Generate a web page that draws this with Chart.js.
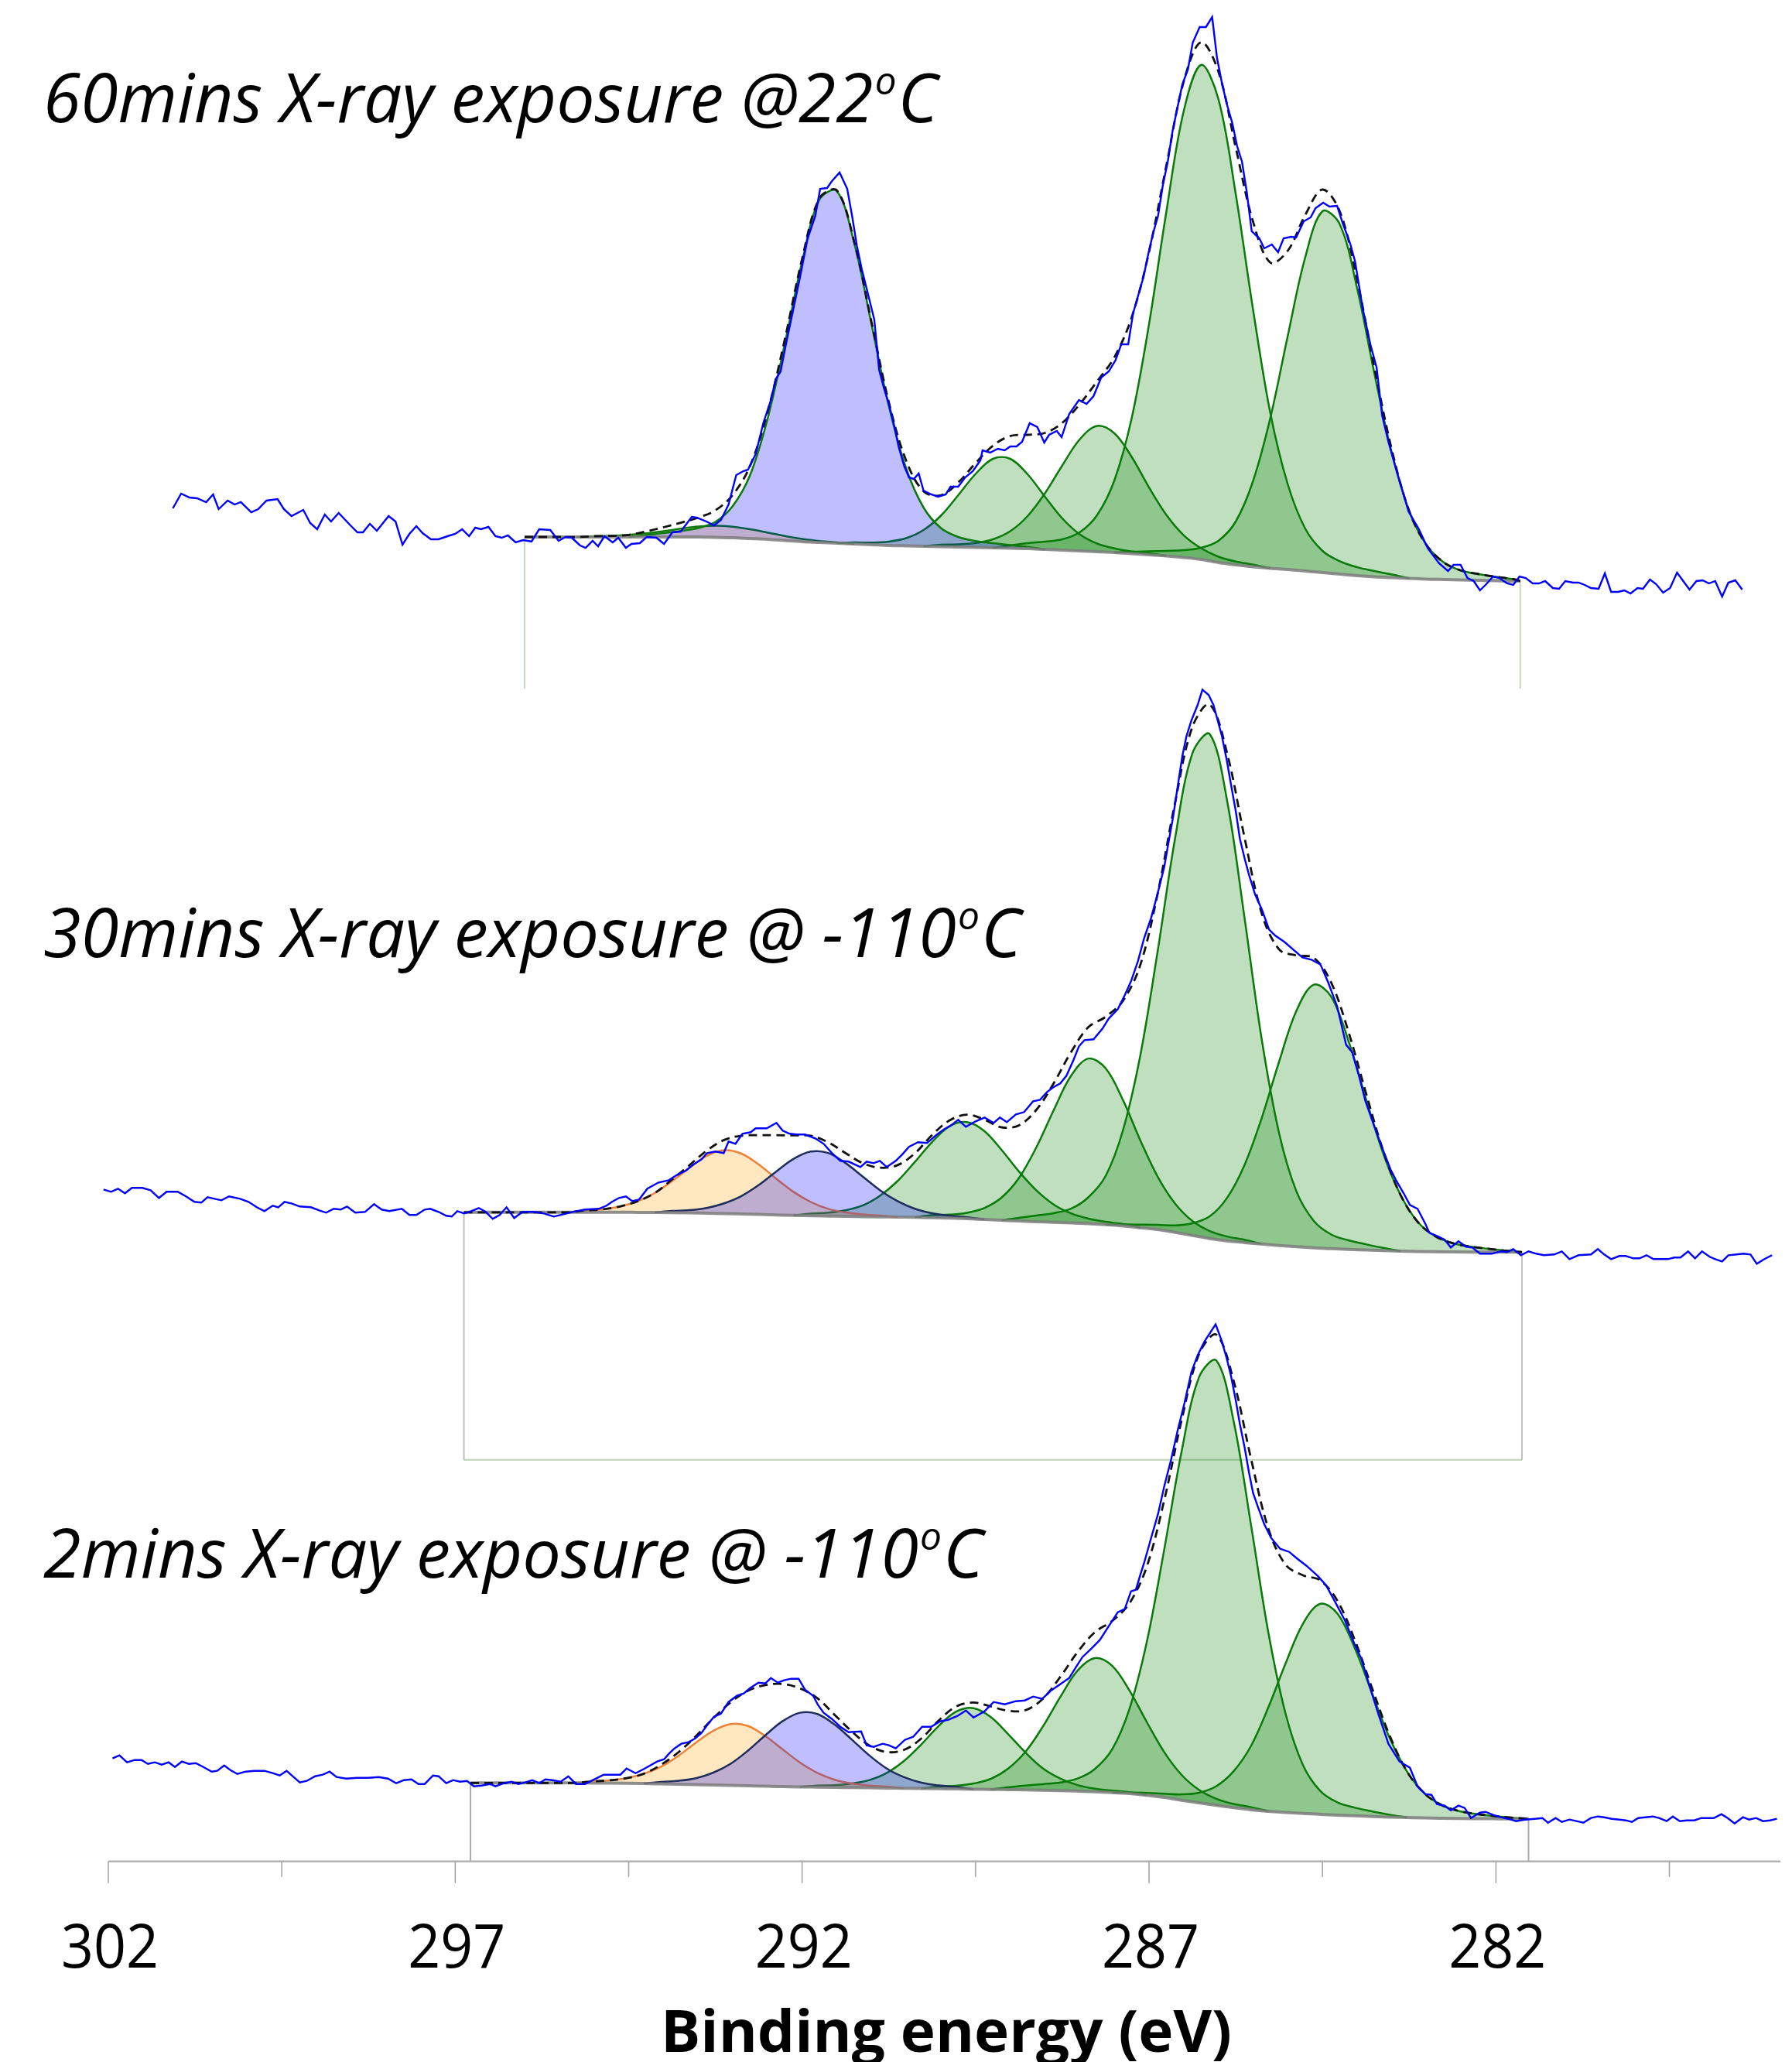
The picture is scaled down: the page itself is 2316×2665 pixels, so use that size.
<!DOCTYPE html>
<html>
<head>
<meta charset="utf-8">
<script src="https://cdn.jsdelivr.net/npm/chart.js@4.4.1/dist/chart.umd.min.js"></script>
<style>
  html, body { margin: 0; padding: 0; background: #fff; }
</style>
</head>
<body>
<canvas id="grafica" width="2316" height="2665"></canvas>
<script>
// C 1s spectra, binding energy (eV) vs intensity (a.u., each spectrum shifted by its offset)
const titles = [
  ['60mins X-ray exposure @22', 'o', 'C'],
  ['30mins X-ray exposure @ -110', 'o', 'C'],
  ['2mins X-ray exposure @ -110', 'o', 'C']
];
const offsets = [1654.7, 787.4, 55];
const tickEnergies = [302, 299.5, 297, 294.5, 292, 289.5, 287, 284.5, 282, 279.5];
const tickLabels = [302, 297, 292, 287, 282];

// fit windows [high BE, low BE] and lower end of the region marker lines
const fitRanges = [[296.0, 281.65], [296.875, 281.625], [296.78, 281.53]];
const frameBottoms = [1515.7, 518.9, 0];

// measured counts [BE, intensity]
const topRaw = [[301.07,94],[300.95,113],[300.83,108],[300.72,107],[300.59,102],[300.49,112],[300.41,93],[300.28,104],[300.18,99],[300.09,102],[299.94,89],[299.84,93],[299.72,104],[299.56,106],[299.47,93],[299.36,84],[299.19,92],[299.09,75],[298.99,67],[298.88,86],[298.79,77],[298.68,88],[298.51,72],[298.41,63],[298.33,63],[298.23,74],[298.13,65],[297.96,84],[297.86,77],[297.76,47],[297.66,61],[297.56,71],[297.47,62],[297.35,54],[297.24,54],[297.11,58],[297.00,61],[296.90,67],[296.80,58],[296.71,69],[296.63,67],[296.52,70],[296.42,58],[296.33,56],[296.24,59],[296.13,50],[296.02,53],[295.90,51],[295.79,67],[295.63,66],[295.51,52],[295.41,57],[295.32,56],[295.20,46],[295.12,43],[295.02,52],[294.94,45],[294.85,58],[294.73,50],[294.65,56],[294.54,43],[294.46,48],[294.34,49],[294.24,57],[294.10,56],[293.99,48],[293.87,63],[293.75,64],[293.59,83],[293.52,82],[293.38,77],[293.27,72],[293.17,79],[293.06,99],[292.95,137],[292.85,142],[292.78,144],[292.67,164],[292.56,204],[292.45,234],[292.38,261],[292.31,271],[292.24,303],[292.17,333],[292.10,363],[292.03,393],[291.92,443],[291.81,472],[291.74,507],[291.64,508],[291.57,517],[291.46,528],[291.35,507],[291.28,472],[291.21,433],[291.14,403],[291.07,378],[290.96,338],[290.89,273],[290.82,249],[290.75,229],[290.68,204],[290.61,174],[290.53,149],[290.46,134],[290.39,132],[290.32,139],[290.25,117],[290.14,112],[290.04,109],[289.93,112],[289.86,122],[289.75,122],[289.65,134],[289.54,142],[289.43,156],[289.40,169],[289.29,166],[289.18,171],[289.08,169],[289.00,174],[288.91,174],[288.83,180],[288.72,204],[288.61,199],[288.51,179],[288.44,189],[288.33,194],[288.26,186],[288.15,216],[288.01,234],[287.90,229],[287.80,239],[287.69,263],[287.58,271],[287.48,286],[287.40,306],[287.30,306],[287.23,346],[287.16,368],[287.08,393],[287.01,423],[286.94,450],[286.87,472],[286.80,512],[286.73,542],[286.66,582],[286.59,612],[286.52,642],[286.44,661],[286.37,696],[286.27,716],[286.18,716],[286.09,729],[286.02,676],[285.95,644],[285.88,617],[285.80,592],[285.73,562],[285.66,542],[285.59,502],[285.52,452],[285.41,443],[285.34,430],[285.23,435],[285.14,425],[285.06,443],[284.95,445],[284.88,444],[284.77,465],[284.67,470],[284.60,482],[284.49,489],[284.40,484],[284.29,485],[284.21,463],[284.10,436],[284.03,413],[283.92,352],[283.81,306],[283.72,276],[283.64,214],[283.55,180],[283.44,145],[283.35,118],[283.26,90],[283.11,67],[282.98,42],[282.82,23],[282.69,13],[282.61,21],[282.51,21],[282.41,4],[282.32,0],[282.23,-12],[282.14,-4],[282.04,6],[281.95,4],[281.84,-3],[281.75,-5],[281.66,6],[281.57,4],[281.47,-3],[281.38,-3],[281.29,0],[281.18,-9],[281.09,-10],[281.00,0],[280.89,-2],[280.81,-2],[280.72,-5],[280.63,-9],[280.52,-10],[280.43,10],[280.34,-14],[280.24,-14],[280.15,-12],[280.06,-16],[279.96,-9],[279.88,-10],[279.78,2],[279.69,-4],[279.59,-15],[279.49,-9],[279.39,11],[279.30,0],[279.21,-11],[279.11,0],[279.02,1],[278.93,-3],[278.84,0],[278.74,-20],[278.65,-2],[278.55,1],[278.45,-11]];

const midRaw = [[302.07,81],[301.96,78],[301.86,82],[301.76,76],[301.66,83],[301.51,83],[301.39,80],[301.27,70],[301.16,78],[301.00,78],[300.88,72],[300.76,65],[300.66,64],[300.57,71],[300.37,67],[300.26,72],[300.10,69],[299.98,65],[299.86,58],[299.75,53],[299.63,60],[299.55,58],[299.46,65],[299.36,63],[299.24,59],[299.08,58],[298.96,54],[298.86,51],[298.75,56],[298.65,55],[298.56,59],[298.44,51],[298.30,52],[298.17,62],[298.06,55],[297.95,53],[297.77,56],[297.66,48],[297.56,48],[297.44,55],[297.36,56],[297.24,52],[297.13,47],[297.05,46],[296.97,53],[296.87,50],[296.77,53],[296.66,57],[296.56,52],[296.46,43],[296.36,48],[296.26,58],[296.15,44],[296.03,52],[295.87,52],[295.72,50],[295.58,46],[295.44,49],[295.31,52],[295.13,55],[294.93,56],[294.82,60],[294.74,65],[294.64,70],[294.54,72],[294.45,66],[294.35,68],[294.23,82],[294.07,90],[293.92,93],[293.80,100],[293.68,105],[293.57,113],[293.45,120],[293.37,128],[293.25,130],[293.13,128],[293.06,143],[292.96,140],[292.86,153],[292.74,155],[292.67,160],[292.51,160],[292.37,167],[292.28,157],[292.18,153],[292.08,152],[291.96,152],[291.81,147],[291.69,140],[291.57,128],[291.45,118],[291.33,117],[291.16,110],[291.07,117],[290.97,115],[290.88,118],[290.78,110],[290.65,118],[290.56,126],[290.46,136],[290.33,142],[290.20,141],[290.07,151],[289.95,159],[289.85,164],[289.75,171],[289.64,162],[289.50,169],[289.37,174],[289.24,167],[289.15,174],[289.05,168],[288.92,178],[288.80,181],[288.67,195],[288.57,197],[288.47,207],[288.38,213],[288.28,218],[288.19,228],[288.09,248],[288.01,266],[287.93,274],[287.80,275],[287.67,289],[287.58,302],[287.45,314],[287.35,332],[287.26,350],[287.16,376],[287.07,406],[286.97,432],[286.88,462],[286.78,498],[286.72,529],[286.65,564],[286.59,600],[286.52,641],[286.46,667],[286.39,687],[286.30,707],[286.23,727],[286.14,720],[286.07,707],[286.01,687],[285.95,667],[285.88,636],[285.82,605],[285.75,570],[285.69,534],[285.62,508],[285.56,488],[285.47,462],[285.37,442],[285.27,417],[285.18,409],[285.05,401],[284.92,391],[284.79,381],[284.66,378],[284.60,375],[284.53,372],[284.42,349],[284.29,318],[284.16,268],[284.07,258],[283.98,230],[283.88,195],[283.77,167],[283.64,135],[283.52,107],[283.44,93],[283.33,76],[283.24,61],[283.13,56],[283.02,37],[282.96,25],[282.85,21],[282.74,16],[282.65,6],[282.54,14],[282.43,7],[282.34,6],[282.23,-2],[282.06,-2],[281.93,1],[281.84,0],[281.75,4],[281.64,-4],[281.53,1],[281.42,-2],[281.31,-4],[281.16,-3],[281.05,1],[280.94,-9],[280.81,-4],[280.63,-3],[280.53,4],[280.44,-3],[280.34,-9],[280.22,-5],[280.13,-5],[280.02,-8],[279.93,-8],[279.83,-4],[279.73,-9],[279.63,-9],[279.52,-9],[279.43,-7],[279.34,-7],[279.23,1],[279.13,-8],[279.03,1],[278.92,-6],[278.84,-9],[278.74,-12],[278.65,-4],[278.53,-3],[278.43,-2],[278.33,-3],[278.24,-15],[278.13,-9],[278.02,-4]];

const botRaw = [[301.94,78],[301.84,82],[301.73,73],[301.62,76],[301.52,76],[301.43,71],[301.33,73],[301.23,70],[301.13,73],[301.04,67],[300.94,74],[300.84,71],[300.74,72],[300.63,67],[300.51,61],[300.43,62],[300.33,69],[300.24,63],[300.14,58],[300.02,61],[299.90,62],[299.75,62],[299.63,59],[299.53,56],[299.43,62],[299.33,54],[299.24,47],[299.14,49],[299.02,55],[298.91,57],[298.81,61],[298.71,54],[298.57,52],[298.42,53],[298.26,53],[298.10,54],[297.97,52],[297.85,46],[297.74,50],[297.63,51],[297.53,45],[297.44,45],[297.32,56],[297.24,55],[297.13,46],[297.03,50],[296.93,48],[296.83,49],[296.73,42],[296.62,43],[296.50,45],[296.42,42],[296.30,46],[296.19,48],[296.09,45],[295.99,47],[295.89,50],[295.79,46],[295.70,51],[295.60,50],[295.48,48],[295.37,55],[295.26,45],[295.13,45],[294.97,52],[294.86,57],[294.74,57],[294.62,57],[294.53,65],[294.40,59],[294.29,64],[294.19,69],[294.09,74],[293.99,77],[293.92,84],[293.84,91],[293.74,97],[293.64,99],[293.54,104],[293.45,111],[293.37,121],[293.27,132],[293.17,136],[293.06,151],[292.94,159],[292.84,162],[292.75,169],[292.63,176],[292.53,175],[292.45,182],[292.35,176],[292.26,179],[292.16,181],[292.05,181],[291.96,167],[291.84,159],[291.77,147],[291.69,137],[291.57,129],[291.45,119],[291.33,112],[291.15,113],[291.07,95],[290.97,93],[290.84,97],[290.75,95],[290.65,91],[290.52,102],[290.40,106],[290.27,119],[290.14,119],[290.01,126],[289.89,128],[289.76,133],[289.64,140],[289.53,131],[289.37,139],[289.24,151],[289.08,148],[288.92,152],[288.79,153],[288.67,158],[288.54,155],[288.41,166],[288.28,174],[288.15,182],[288.06,195],[287.96,209],[287.83,220],[287.71,231],[287.58,249],[287.45,267],[287.35,271],[287.26,294],[287.19,296],[287.13,314],[287.07,331],[286.97,363],[286.87,394],[286.78,430],[286.68,465],[286.59,501],[286.49,537],[286.39,577],[286.30,599],[286.20,617],[286.12,628],[286.04,639],[285.95,617],[285.88,595],[285.82,573],[285.75,541],[285.69,510],[285.62,479],[285.56,448],[285.50,421],[285.43,403],[285.34,381],[285.24,363],[285.11,349],[284.98,345],[284.86,336],[284.73,327],[284.57,314],[284.45,302],[284.34,284],[284.18,257],[284.03,224],[283.94,207],[283.83,174],[283.70,137],[283.55,97],[283.39,74],[283.24,66],[283.13,42],[283.02,32],[282.93,31],[282.85,19],[282.74,17],[282.65,11],[282.54,17],[282.45,14],[282.36,1],[282.23,8],[282.15,9],[282.04,5],[281.93,2],[281.82,0],[281.71,-3],[281.58,-1],[281.44,0],[281.33,1],[281.25,-5],[281.14,1],[281.05,-4],[280.94,-1],[280.84,-3],[280.74,-5],[280.63,1],[280.53,3],[280.44,2],[280.33,0],[280.22,-1],[280.13,-2],[280.04,-4],[279.95,1],[279.85,2],[279.74,3],[279.65,1],[279.54,-3],[279.45,3],[279.35,-3],[279.25,-2],[279.14,-2],[279.04,1],[278.95,1],[278.86,1],[278.75,6],[278.66,1],[278.56,-6],[278.44,2],[278.35,-1],[278.25,1],[278.15,-3],[278.05,-2],[277.95,0]];

// Shirley backgrounds, one value per 0.25 eV step across the fit window
const topBg = [57,57,57,57,57,57,57,57,57,57,57,56.5,56,55,54,52.5,51,50,49,48,47,46,45.5,45,44.5,44,43.5,43,42.5,42,41,40,39,38,37,35.5,34,32.5,30.5,28,24,21,18.5,16.5,15,13,11,9,7,5.5,4.5,3.5,2.5,2,1.5,1,0.5,0,0];
const midBg = [51.5,51.5,51.5,51.5,51.5,51.5,51.5,51.5,51.5,51.5,51.4,51.3,51.1,50.8,50.4,49.9,49.3,48.7,48.1,47.5,47,46.6,46.2,45.9,45.6,45.3,45,44.5,44,43.2,42.2,41.2,40.2,39.4,38.6,37.8,36.8,35.5,33.8,31.6,29.2,25.6,21.6,17.6,14.6,12.4,10.5,8.6,7,5.6,4.5,3.5,2.7,2,1.4,0.9,0.5,0.3,0.1,0,0,0];
const botBg = [46.4,46.4,46.4,46.4,46.4,46.4,46.4,46.3,46.2,46,45.6,45.1,44.6,44.1,43.6,43.1,42.6,42.1,41.7,41.3,41,40.7,40.4,40.1,39.8,39.5,39.2,38.9,38.6,38.3,38,37.7,37.4,37,36.5,35.8,35,34,32.6,30.4,27.6,24,20.6,17.4,14.4,11.8,9.8,8.2,6.9,5.8,4.8,3.9,3,2.3,1.7,1.1,0.7,0.4,0.2,0.1,0,0];

// fitted components above background (0.25 eV steps from the start energy)
const topCompStart = [295.25, 294.5, 291.5, 290.25, 289.25, 287.5];
const topCompKind = ['orange', 'blue', 'green', 'green', 'green', 'green'];
const topC1 = [0,1,1.4,2.7,4.7,7.5,10.7,13.5,15,14.3,11.9,8.8,5.7,3.4,1.8,1.0,0];
const topC2 = [0,2.5,5,7.7,11.5,20,41,82,155,254,362,443,455,389,285,180,100,50,24,13,8.3,6,4,2,0];
const topC3 = [0,1.9,2.8,5.1,10,21,40,67,95,115,115.5,96,68,41,21.5,10.5,5.2,2.8,1.9,0];
const topC4 = [0,2.4,3.4,5.7,11,22,42,72.5,109.5,144,162.5,154,125,87,53,28.7,14.5,7.5,4.2,2.8,0];
const topC5 = [0,3.5,7,10,14,24,47,93,175,298,445,577,639,599,479,332,200,110,55,28,16.6,10.9,7.5,4,0];
const topC6 = [0,2.5,4.5,6.6,9.4,15,28,56,111,195,302,405,467,452,371,262,161,87,44,22,12,8,5,2.5,0];

const midCompStart = [295.375, 294.125, 292.125, 290.375, 289.125, 287.625];
const midCompKind = ['orange', 'blue', 'green', 'green', 'green', 'green'];
const midC1 = [0,2.3,3.9,7.5,14.3,25,40.7,58,74,81.8,78,64.5,47,30.4,17.8,9.3,5,2.8,1.7,0];
const midC2 = [0,2.1,3.5,6.7,13.2,23.2,38,56,73,83,81.6,69,51.7,34.3,20.6,11.1,5.8,3.1,1.9,0];
const midC3 = [0,2.7,4.4,7.9,14.5,27.5,46.5,71.6,98,118.7,124.8,114.4,90.8,64,40.5,23,12.3,6.5,3.7,2.5,0];
const midC4 = [0,3.2,4.5,7.7,14.8,29.3,55.6,95.9,144.7,190,213.4,202,162.6,112.8,68.3,37.2,18.6,9.6,5.6,3.6,0];
const midC5 = [0,4,8,11.8,18.3,34,63,124,223,360,509,623,652,569,420.5,264,145,71.4,34.7,18.3,11.8,7.5,3.5,0];
const midC6 = [0,2,4,6.1,8.9,15.7,28.6,55.6,100,163,237.7,305,340,325.7,269.4,196,125.5,72.6,37.9,20.1,11.3,7.2,4.5,2,0];

const botCompStart = [295.28, 294.28, 292.03, 290.28, 289.28, 287.53];
const botCompKind = ['orange', 'blue', 'green', 'green', 'green', 'green'];
const botC1 = [0,2,3.5,6.5,12.7,22.4,37,54.4,70.3,79.4,77.3,64.8,48,31.4,18.4,9.8,5.2,2.9,1.8,0];
const botC2 = [0,2.6,4.6,8.4,16.1,28.1,45.6,65.9,84.6,95.8,94.5,81,61.7,41.7,25.2,14.3,7.5,4.2,2.5,0];
const botC3 = [0,1.9,2.8,5.3,10,19.5,35.4,57.2,81.2,99.9,104.7,93.5,71.7,48.2,28.2,15.6,7.8,4,2.4,1.7,0];
const botC4 = [0,2.9,4.2,7.3,13.7,27.3,49.3,82.3,120.8,155.7,172.7,163.5,133,94.3,58.5,32.7,16.8,8.5,4.8,3.3,0];
const botC5 = [0,3,5.5,7.8,10.4,16.2,29.5,56,110,199,321,451,550,575,499.4,368,231,127,62.4,30,16.2,10.4,6.5,3,0];
const botC6 = [0,1.5,3,4.9,7.6,13.1,24.8,47.2,82.4,134.3,193,245.4,272.2,260,215.7,158,101.8,59.2,31.7,16.9,9.6,6,3.5,1.5,0];

const spectra = [
  { raw: topRaw, bg: topBg, start: topCompStart, kind: topCompKind, comps: [topC1, topC2, topC3, topC4, topC5, topC6], greenEdges: true },
  { raw: midRaw, bg: midBg, start: midCompStart, kind: midCompKind, comps: [midC1, midC2, midC3, midC4, midC5, midC6] },
  { raw: botRaw, bg: botBg, start: botCompStart, kind: botCompKind, comps: [botC1, botC2, botC3, botC4, botC5, botC6] }
];

const STEP = 0.25;
const fills = { orange: 'rgba(255,165,0,0.25)', blue: 'rgba(0,0,255,0.25)', green: 'rgba(0,128,0,0.25)' };
const edges = { orange: '#ee8236', blue: '#1e2d5c', green: '#0b7a0b' };
const frameColors = ['rgba(150,190,150,0.55)', 'rgba(165,165,165,0.7)', 'rgba(150,150,150,0.8)'];

function fitGrid(hi, lo) {
  const g = [];
  for (let k = 0; hi - k * STEP > lo + 1e-6; k++) g.push(+(hi - k * STEP).toFixed(3));
  g.push(lo);
  return g;
}

const datasets = [];
spectra.forEach((sp, s) => {
  const off = offsets[s];
  const [hi, lo] = fitRanges[s];
  const grid = fitGrid(hi, lo);

  // region marker lines
  const fb = frameBottoms[s];
  datasets.push({ data: [{x: hi, y: off + sp.bg[0]}, {x: hi, y: fb}], borderColor: frameColors[s], borderWidth: 2, order: 6 });
  datasets.push({ data: [{x: lo, y: off}, {x: lo, y: fb}], borderColor: frameColors[s], borderWidth: 2, order: 6 });
  if (s === 1) {
    datasets.push({ data: [{x: hi, y: fb}, {x: lo, y: fb}], borderColor: 'rgba(170,200,160,0.8)', borderWidth: 2, order: 6 });
  }

  const bgIndex = datasets.length;
  datasets.push({
    data: grid.map((e, i) => ({x: e, y: off + sp.bg[i]})),
    borderColor: 'rgba(125,125,125,0.85)', borderWidth: 4, order: 2,
    cubicInterpolationMode: 'monotone'
  });

  const sum = grid.map(() => 0);
  sp.comps.forEach((vals, c) => {
    const i0 = Math.round((hi - sp.start[c]) / STEP);
    const pts = vals.map((v, k) => {
      sum[i0 + k] += v;
      return {x: grid[i0 + k], y: off + sp.bg[i0 + k] + v};
    });
    const kind = sp.kind[c];
    datasets.push({
      data: pts,
      fill: {target: bgIndex},
      backgroundColor: fills[kind],
      borderColor: sp.greenEdges ? edges.green : edges[kind],
      borderWidth: 2.5,
      order: kind === 'blue' ? 3 : 4,
      tension: 0.35
    });
  });

  datasets.push({
    data: grid.map((e, i) => ({x: e, y: off + sp.bg[i] + sum[i]})),
    borderColor: '#111', borderWidth: 2.8, borderDash: [11, 7], order: 1,
    tension: 0.35
  });

  datasets.push({
    data: sp.raw.map(p => ({x: p[0], y: off + p[1]})),
    borderColor: '#0000ff', borderWidth: 2.4, order: 0, tension: 0
  });
});

function drawScaled(ctx, text, x, y, font, sx, align) {
  ctx.save();
  ctx.font = font;
  ctx.translate(x, y);
  ctx.scale(sx, 1);
  ctx.textAlign = align;
  ctx.textBaseline = 'alphabetic';
  ctx.fillText(text, 0, 0);
  ctx.restore();
}

const titleBase = [158, 1237, 2039];
const titleWidth = [1156, 1264, 1215];

const decor = {
  id: 'decor',
  afterDraw(chart) {
    const ctx = chart.ctx;
    const xs = chart.scales.x, ys = chart.scales.y;
    const y0 = ys.getPixelForValue(0);
    ctx.save();
    ctx.strokeStyle = '#b3b3b3';
    ctx.lineWidth = 2.5;
    ctx.beginPath();
    ctx.moveTo(xs.getPixelForValue(302), y0);
    ctx.lineTo(chart.chartArea.right, y0);
    ctx.stroke();
    ctx.lineWidth = 1.5;
    ctx.strokeStyle = '#a0a0a0';
    tickEnergies.forEach(e => {
      const x = xs.getPixelForValue(e);
      const major = tickLabels.includes(e);
      ctx.beginPath();
      ctx.moveTo(x, y0);
      ctx.lineTo(x, y0 + (major ? 28 : 20));
      ctx.stroke();
    });
    ctx.fillStyle = '#000';
    tickLabels.forEach(e => {
      drawScaled(ctx, String(e), xs.getPixelForValue(e) + 2, 2543, '400 79px "Open Sans"', 0.93, 'center');
    });
    ctx.font = '700 75px "Open Sans"';
    const tw = ctx.measureText('Binding energy (eV)').width;
    drawScaled(ctx, 'Binding energy (eV)', 1223, 2652, '700 75px "Open Sans"', 738 / tw, 'center');

    titles.forEach((t, i) => {
      const big = 'italic 500 87px "Open Sans"';
      const small = 'italic 500 49px "Open Sans"';
      ctx.font = big;
      const w1 = ctx.measureText(t[0]).width;
      const w3 = ctx.measureText(t[2]).width;
      ctx.font = small;
      const w2 = ctx.measureText(t[1]).width + 4;
      const sx = titleWidth[i] / (w1 + w2 + w3);
      ctx.save();
      ctx.translate(56, titleBase[i]);
      ctx.scale(sx, 1);
      ctx.textAlign = 'left';
      ctx.textBaseline = 'alphabetic';
      ctx.font = big;
      ctx.fillText(t[0], 0, 0);
      ctx.font = small;
      ctx.fillText(t[1], w1 + 2, -36);
      ctx.font = big;
      ctx.fillText(t[2], w1 + w2, 0);
      ctx.restore();
    });
    ctx.restore();
  }
};

new Chart(document.getElementById('grafica').getContext('2d'), {
  type: 'line',
  data: { datasets: datasets },
  options: {
    responsive: false,
    animation: false,
    devicePixelRatio: 1,
    events: [],
    layout: { padding: { left: 100, right: 15, top: 0, bottom: 259.3 } },
    elements: { point: { radius: 0 }, line: { fill: false } },
    plugins: { legend: { display: false }, tooltip: { enabled: false } },
    scales: {
      x: { type: 'linear', min: 277.9, max: 302.446, reverse: true, bounds: 'data', display: false },
      y: { type: 'linear', min: 0, max: 2405.7, bounds: 'data', display: false }
    }
  },
  plugins: [decor]
});
</script>
</body>
</html>
